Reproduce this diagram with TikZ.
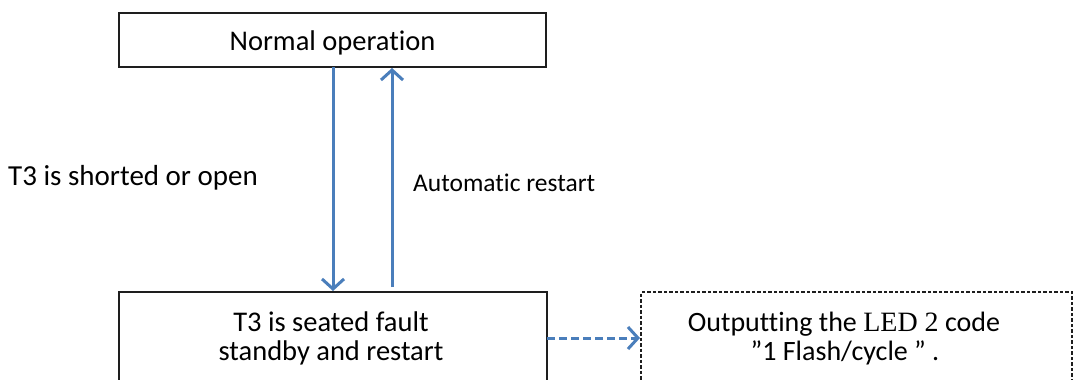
\documentclass[tikz,border=0pt]{standalone}
\usepackage{fontspec}
\setmainfont[Ligatures=CommonOff]{Carlito}
\newfontfamily\serifled{Liberation Serif}
\usetikzlibrary{arrows.meta}
\definecolor{flowblue}{RGB}{74,126,187}
\definecolor{boxline}{RGB}{30,30,30}
\tikzset{
  statebox/.style={draw=boxline, line width=2.6pt, fill=white, inner sep=0pt},
  notebox/.style={draw=boxline, line width=1.6pt, dash pattern=on 3.5pt off 2pt, fill=white, inner sep=0pt},
  flow/.style={draw=flowblue, line width=3pt,
    -{Straight Barb[length=10pt,width=22pt,line width=3pt]}},
  dashflow/.style={flow, dash pattern=on 8pt off 4pt},
  lbl/.style={font=\fontsize{29}{31}\selectfont, inner sep=0pt},
  boxlbl/.style={font=\fontsize{28.5}{31}\selectfont, inner sep=0pt},
  notelbl/.style={font=\fontsize{28}{31}\selectfont, inner sep=0pt},
  smalllbl/.style={font=\fontsize{25.5}{28}\selectfont, inner sep=0pt}
}
\begin{document}
\begin{tikzpicture}[x=1pt,y=-1pt]
\useasboundingbox (0,0) rectangle (1074,380);
\clip (0,0) rectangle (1074,380);
\fill[white] (0,0) rectangle (1074,380);

% state boxes; the lower two run past the bottom edge
\node[statebox, minimum width=427pt, minimum height=54pt] (normal) at (332.5,40) {};
\node[statebox, minimum width=428pt, minimum height=110pt] (fault) at (333,347) {};
\node[notebox, minimum width=431pt, minimum height=110pt] (led) at (856.5,347) {};

% box texts
\node[boxlbl, anchor=base] (normaltxt) at (332.5,50) {Normal operation};
\node[boxlbl, anchor=base] (faulttxt1) at (331,331) {T3 is seated fault};
\node[boxlbl, anchor=base] (faulttxt2) at (331,360) {standby and restart};
\node[notelbl, anchor=base] (ledtxt1) at (844,331) {Outputting the {\serifled LED 2} code};
\node[notelbl, anchor=base] (ledtxt2) at (845,360) {”1 Flash/cycle ” .};

% transitions
\coordinate (downtop) at (333,67);
\coordinate (downbot) at (333,291);
\coordinate (uptop) at (392,68);
\coordinate (upbot) at (392,287);
\draw[flow] (downtop) -- (downbot);
\draw[flow] (upbot) -- (uptop);
\coordinate (dashstart) at (547,338);
\coordinate (dashend) at (640,338);
\draw[dashflow] (dashstart) -- (dashend);

% transition labels
\node[lbl, anchor=base west] (shorted) at (8,185) {T3 is shorted or open};
\node[smalllbl, anchor=base west] (restart) at (413,191) {Automatic restart};
\end{tikzpicture}
\end{document}
